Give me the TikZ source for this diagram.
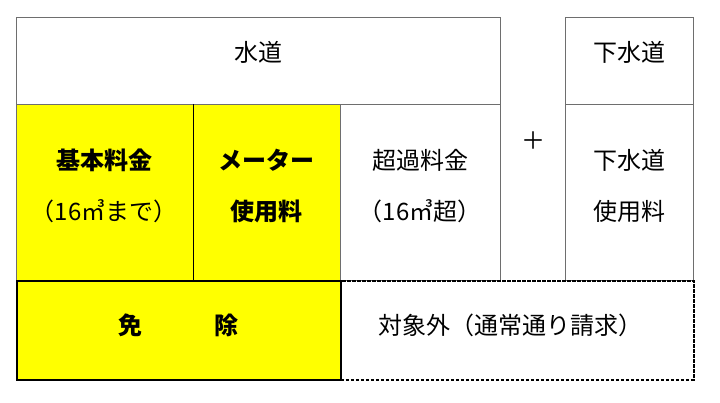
\documentclass[tikz,border=0pt]{standalone}
\usepackage{fontspec}
\setmainfont{Noto Sans CJK JP}
\definecolor{yel}{RGB}{255,255,0}
\definecolor{lineg}{RGB}{110,110,110}
\begin{document}
\begin{tikzpicture}[x=1pt,y=-1pt,
  box/.style={draw=lineg, line width=0.9pt, inner sep=0pt, anchor=north west},
  ybox/.style={box, fill=yel},
  txt/.style={inner sep=0pt, font=\fontsize{24}{24}\selectfont, align=center},
  btxt/.style={txt, font=\fontsize{24}{24}\selectfont\bfseries},
  two/.style={align=center, execute at begin node=\setlength{\baselineskip}{51pt}}]
\useasboundingbox (0,0) rectangle (720,403);
\fill[white] (0,0) rectangle (720,403);
% top row
\node[box, minimum width=484pt, minimum height=87pt] (suido) at (16,17) {};
\node[box, minimum width=128pt, minimum height=87pt] (gesui) at (565,17) {};
% middle row
\node[ybox, minimum width=177pt, minimum height=176pt] (kihon) at (16,104) {};
\node[ybox, minimum width=147pt, minimum height=176pt] (meter) at (193,104) {};
\node[box, minimum width=160pt, minimum height=176pt] (chouka) at (340,104) {};
\node[box, minimum width=128pt, minimum height=176pt] (gesuiryo) at (565,104) {};
\draw[black, line width=0.7pt] (meter.north west) -- ([yshift=-2pt]meter.south west);
% bottom row
\node[draw=black, dash pattern=on 3.5pt off 1.5pt, line width=1.8pt, inner sep=0pt, anchor=north west,
  minimum width=353pt, minimum height=99pt] (taisho) at (340,280) {};
\node[draw=black, fill=yel, line width=2.4pt, inner sep=0pt, anchor=north west,
  minimum width=324pt, minimum height=99pt] (menjo) at (16,280) {};
% texts
\node[txt] (t1) at (258,52) {水道};
\node[txt] (t2) at (629,52) {下水道};
\node[btxt, two] (t3) at (104,186) {基本料金\\\mdseries（16㎥まで）};
\node[btxt, two] (t4) at (266,186) {メーター\\使用料};
\node[txt, two] (t5) at (420,186) {超過料金\\（16㎥超）};
\node[txt, two] (t6) at (629,186) {下水道\\使用料};
\node[txt, font=\fontsize{24}{24}\selectfont] (plus) at (533,141) {＋};
\node[btxt] (t7) at (178,325) {免　　　除};
\node[txt] (t8) at (510,325) {対象外（通常通り請求）};
\end{tikzpicture}
\end{document}
